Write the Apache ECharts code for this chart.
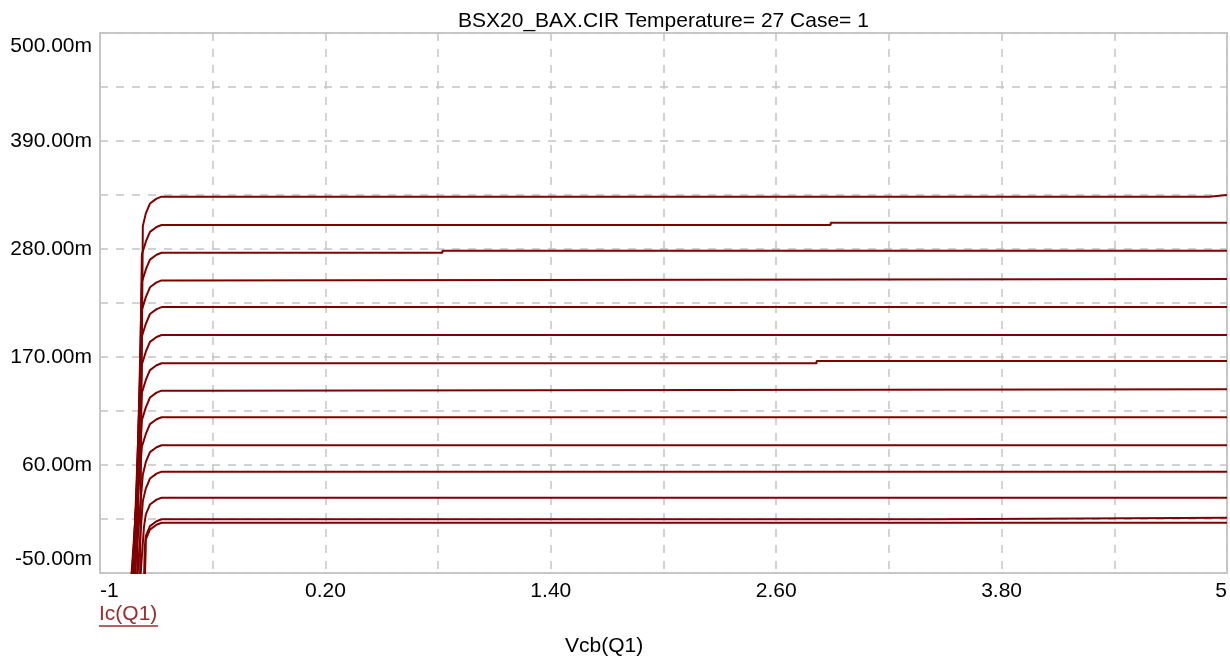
<!DOCTYPE html>
<html>
<head>
<meta charset="utf-8">
<script src="https://cdn.jsdelivr.net/npm/echarts@6/dist/echarts.min.js"></script>
<style>
html,body{margin:0;padding:0;background:#fff;}
#chart{width:1230px;height:657px;}
</style>
</head>
<body>
<div id="chart"></div>
<script>
// ---- data ----
const titleText = 'BSX20_BAX.CIR Temperature= 27 Case= 1';
const xAxisName = 'Vcb(Q1)';
const seriesName = 'Ic(Q1)';
const xTickLabels = ['-1', '0.20', '1.40', '2.60', '3.80', '5'];
const yTickLabels = ['-50.00m', '60.00m', '170.00m', '280.00m', '390.00m', '500.00m'];
// plateau level (mA) of each curve just after the knee
const curveLevels = [1.2, 4.7, 26.7, 53.2, 80.1, 108.6, 135.7, 163.6, 192.4, 220.8, 248.0, 276.2, 304.4, 333.3];
// level (mA) at the right end, after a small step
const curveEndLevels = [1.2, 6.3, 26.7, 53.2, 80.1, 108.6, 137.1, 165.9, 192.4, 220.8, 249.4, 278.3, 306.8, 335.0];
// Vcb where the small step occurs (null = none)
const stepVcb = [null, 3.45, null, null, null, null, -0.506, 2.815, null, null, -0.596, 0.823, 2.89, 4.904];
// Vcb of the steep rise at the bottom edge and near the knee
const riseBottomVcb = [-0.762, -0.766, -0.787, -0.803, -0.819, -0.835, -0.835, -0.830, -0.825, -0.825, -0.819, -0.814, -0.803, -0.787];
const riseTopVcb = [-0.757, -0.762, -0.766, -0.772, -0.772, -0.777, -0.777, -0.777, -0.777, -0.777, -0.777, -0.777, -0.777, -0.772];
// knee shape: Vcb points and how far below plateau (mA)
const kneeVcb = [-0.756, -0.734, -0.699, -0.672];
const kneeDrop = [17, 7, 2, 0];
const riseTopDrop = 30;
const vcbEnd = 5;
const icBelow = -60;

// ---- build series ----
const series = curveLevels.map((L, i) => {
  const pts = [];
  pts.push([riseBottomVcb[i], icBelow]);
  pts.push([riseTopVcb[i], L - riseTopDrop]);
  kneeVcb.forEach((x, k) => pts.push([x, L - kneeDrop[k]]));
  if (stepVcb[i] !== null) {
    pts.push([stepVcb[i], L]);
    pts.push([stepVcb[i], curveEndLevels[i]]);
  }
  pts.push([vcbEnd, curveEndLevels[i]]);
  return {
    name: seriesName,
    type: 'line',
    data: pts,
    showSymbol: false,
    symbol: 'none',
    clip: true,
    lineStyle: { color: '#800000', width: 2 },
    itemStyle: { color: '#800000' },
    animation: false,
    silent: true
  };
});

const FONT = '"Liberation Sans", Arial, sans-serif';
const chart = echarts.init(document.getElementById('chart'), null, { renderer: 'canvas' });
chart.setOption({
  backgroundColor: '#ffffff',
  animation: false,
  title: {
    text: titleText,
    left: 453,
    top: 6,
    textStyle: { fontFamily: FONT, fontSize: 21, fontWeight: 'normal', color: '#000' }
  },
  grid: {
    left: 100, right: 2, top: 33, bottom: 84,
    show: true, borderColor: '#c8c8c8', borderWidth: 2, backgroundColor: 'transparent'
  },
  xAxis: {
    type: 'value', min: -1, max: 5, interval: 0.6,
    axisLine: { show: false }, axisTick: { show: false },
    axisLabel: {
      margin: 8, fontFamily: FONT, fontSize: 21, color: '#000',
      alignMinLabel: 'left', alignMaxLabel: 'right',
      formatter: v => { const k = Math.round((v + 1) / 0.6); return k % 2 === 0 ? xTickLabels[k / 2] : ''; }
    },
    splitLine: { show: true, lineStyle: { color: '#c4c4c4', width: 1.5, type: [8, 8] } }
  },
  yAxis: {
    type: 'value', min: -50, max: 500, interval: 55,
    axisLine: { show: false }, axisTick: { show: false },
    axisLabel: {
      margin: 8, fontFamily: FONT, fontSize: 21, color: '#000', lineHeight: 27,
      verticalAlignMinLabel: 'bottom', verticalAlignMaxLabel: 'top',
      formatter: v => { const k = Math.round((v + 50) / 55); return k % 2 === 0 ? yTickLabels[k / 2] : ''; }
    },
    splitLine: { show: true, lineStyle: { color: '#c4c4c4', width: 1.5, type: [8, 8] } }
  },
  graphic: [
    { type: 'text', left: 99, top: 604,
      style: { text: seriesName, fill: '#a02c2c', font: '21px ' + FONT } },
    { type: 'line', shape: { x1: 99, y1: 626, x2: 158, y2: 626 },
      style: { stroke: '#a02c2c', lineWidth: 1.5 } },
    { type: 'text', left: 565, top: 636,
      style: { text: xAxisName, fill: '#000', font: '21px ' + FONT } }
  ],
  series: series
});
</script>
</body>
</html>
